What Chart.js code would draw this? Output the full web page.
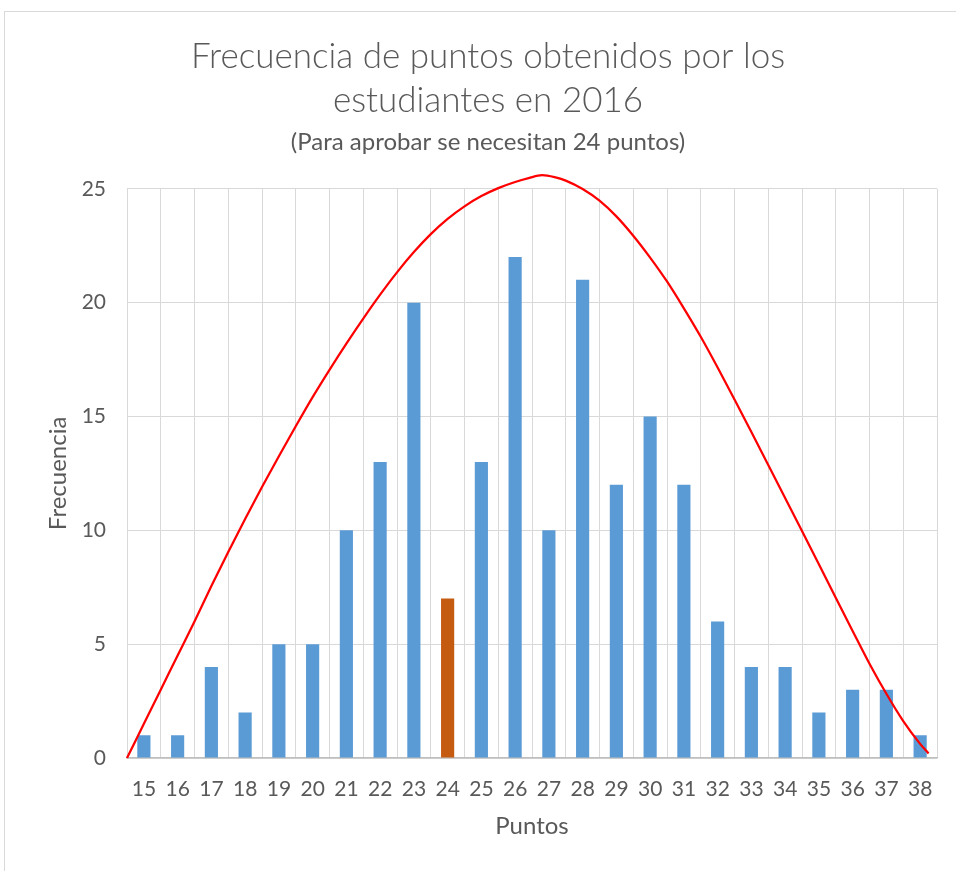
<!DOCTYPE html>
<html>
<head>
<meta charset="utf-8">
<script src="https://cdn.jsdelivr.net/npm/chart.js@4"></script>
<style>
  html, body { margin: 0; padding: 0; background: #ffffff; overflow: hidden; width: 956px; height: 871px; }
  #frame { position: absolute; left: 4px; top: 11px; width: 966px; height: 860px; border: 1px solid #d9d9d9; background: #fff; }
  canvas { display: block; }
</style>
</head>
<body>
<div id="frame"><canvas id="c" width="966" height="860"></canvas></div>
<script>
// ---- data ----
const puntos = [15,16,17,18,19,20,21,22,23,24,25,26,27,28,29,30,31,32,33,34,35,36,37,38];
const frecuencia = [1,1,4,2,5,5,10,13,20,7,13,22,10,21,12,15,12,6,4,4,2,3,3,1];
const puntosAprobar = 24;
// red trend curve (x in points, y in frequency)
const curvaX = [14.5,15,15.5,16,16.5,17,17.5,18,18.5,19,19.5,20,20.5,21,21.5,22,22.5,23,23.5,24,24.5,25,25.5,26,26.4,26.8,27.2,27.5,28,28.5,29,29.5,30,30.5,31,31.5,32,32.5,33,33.5,34,34.5,35,35.5,36,36.5,37,37.5,38,38.25];
const curvaY = [0,1.5,3.0,4.5,6.0,7.55,9.05,10.5,11.9,13.25,14.57,15.85,17.05,18.2,19.3,20.35,21.33,22.22,23.01,23.68,24.23,24.68,25.03,25.3,25.47,25.6,25.5,25.36,24.99,24.48,23.79,22.94,21.98,20.93,19.75,18.5,17.15,15.75,14.32,12.87,11.42,9.97,8.51,7.04,5.58,4.14,2.82,1.62,0.62,0.2];
const yTicks = [0,5,10,15,20,25];
const titulo = ['Frecuencia de puntos obtenidos por los', 'estudiantes en 2016'];
const subtitulo = '(Para aprobar se necesitan 24 puntos)';

const FONT = "Lato, 'Open Sans', sans-serif";
const GRAY = '#595959';
const barColors = puntos.map(p => p === puntosAprobar ? '#c55a11' : '#5b9bd5');
const curva = curvaX.map((x, i) => ({ x: x, y: curvaY[i] }));

new Chart(document.getElementById('c'), {
  type: 'bar',
  data: {
    labels: puntos.map(String),
    datasets: [
      {
        type: 'line',
        data: curva,
        xAxisID: 'x2',
        yAxisID: 'y',
        borderColor: '#ff0000',
        borderWidth: 2.25,
        pointRadius: 0,
        tension: 0.4,
        cubicInterpolationMode: 'monotone',
        fill: false,
        clip: false,
        order: 0
      },
      {
        type: 'bar',
        data: frecuencia,
        xAxisID: 'x',
        yAxisID: 'y',
        backgroundColor: barColors,
        borderWidth: 0,
        grouped: false,
        categoryPercentage: 1.0,
        barPercentage: 0.39,
        order: 1
      }
    ]
  },
  options: {
    responsive: false,
    animation: false,
    devicePixelRatio: 1,
    layout: { padding: { left: 34, right: 34, top: 0, bottom: 0 } },
    plugins: {
      legend: { display: false },
      tooltip: { enabled: false },
      title: {
        display: true,
        text: titulo,
        color: GRAY,
        font: { family: FONT, size: 35, weight: '300', lineHeight: 1.28 },
        padding: { top: 22, bottom: 2 }
      },
      subtitle: {
        display: true,
        text: subtitulo,
        color: GRAY,
        font: { family: FONT, size: 24, weight: 'normal', lineHeight: 1.05 },
        padding: { top: 4, bottom: 34 }
      }
    },
    scales: {
      x: {
        type: 'category',
        offset: true,
        grid: { display: true, offset: true, color: '#d9d9d9', lineWidth: 1, drawTicks: false },
        border: { display: true, color: '#bfbfbf', width: 1.5 },
        ticks: { color: GRAY, font: { family: FONT, size: 21 }, padding: 19, maxRotation: 0, autoSkip: false },
        title: { display: true, text: 'Puntos', color: GRAY, font: { family: FONT, size: 24 }, padding: { top: 0, bottom: 31 } },
        afterFit: (s) => { s.height = 114; }
      },
      x2: {
        type: 'linear',
        min: 14.5,
        max: 38.5,
        offset: false,
        grid: { offset: false },
        display: false
      },
      y: {
        min: 0,
        max: 25,
        afterBuildTicks: (s) => { s.ticks = yTicks.map(v => ({ value: v })); },
        grid: { color: '#d9d9d9', lineWidth: 1, drawTicks: false },
        border: { display: false },
        ticks: { color: GRAY, font: { family: FONT, size: 21 }, padding: 21 },
        title: { display: true, text: 'Frecuencia', color: GRAY, font: { family: FONT, size: 24 }, padding: { top: 5, bottom: 0 } },
        afterFit: (s) => { s.width = 88; }
      }
    }
  }
});
</script>
</body>
</html>
